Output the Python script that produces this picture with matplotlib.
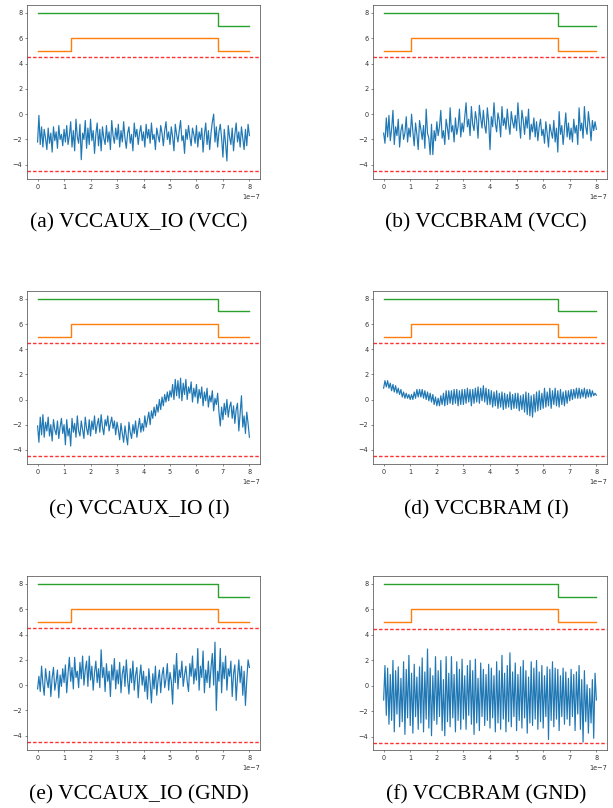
import numpy as np
import matplotlib
matplotlib.use("Agg")
import matplotlib.pyplot as plt

# captions of the six panels
captions = [
    "(a) VCCAUX_IO (VCC)", "(b) VCCBRAM (VCC)",
    "(c) VCCAUX_IO (I)", "(d) VCCBRAM (I)",
    "(e) VCCAUX_IO (GND)", "(f) VCCBRAM (GND)",
]

# step signals (x in units of 1e-7 s)
edges_io = [0, 1.28, 6.8, 8]
edges_bram = [0, 1.02, 6.57, 8]
orange_vals = [5, 6, 5]
green_vals = [8, 8, 7]
limit_hi = 4.5
limit_lo = -4.5

# sampled traces, one sample every 0.05e-7 s
trace_a = [
    -2.2, -0.1, -2.4, -1.0, -2.6, -1.2, -1.9, -2.8, -1.1, -2.3, -1.5, -3.0, -1.0, -2.1, -1.4, -2.7, -0.9, -2.0, -1.6, -2.5,
    -1.2, -2.2, -0.9, -2.4, -1.7, -0.6, -2.6, -1.3, -2.9, -0.4, -1.8, -2.3, -0.8, -3.6, -1.5, -2.0, -0.5, -2.7, -1.1, -2.4,
    -0.4, -2.1, -1.3, -3.1, -1.6, -0.7, -2.5, -1.2, -2.9, -1.0, -1.9, -2.4, -0.9, -2.2, -1.4, -2.8, -0.5, -1.7, -2.3, -1.1,
    -2.0, -0.8, -2.6, -1.3, -2.2, -0.6, -1.9, -2.7, -1.5, -1.0, -2.3, -1.6, -2.9, -0.7, -1.8, -1.2, -2.4, -1.5, -0.9, -2.1,
    -1.4, -2.6, -0.8, -1.9, -1.2, -2.3, -0.7, -2.0, -1.6, -2.8, -1.1, -1.7, -2.2, -0.9, -1.5, -2.5, -1.3, -0.6, -2.0, -1.4,
    -2.4, -1.0, -1.8, -2.9, -0.8, -1.6, -2.2, -1.3, -0.5, -2.1, -1.7, -3.1, -1.2, -2.0, -0.9, -1.8, -2.5, -1.1, -1.6, -2.3,
    -0.9, -2.6, -1.4, -2.0, -1.1, -3.0, -1.6, -0.7, -2.4, -1.3, -2.8, -1.5, -0.6, 0.0, -2.2, -1.0, -2.6, -1.4, -0.8, -1.9,
    -3.4, -1.2, -2.3, -3.7, -0.9, -1.8, -2.4, -1.1, -2.9, -1.6, -0.7, -2.2, -1.4, -2.6, -1.0, -1.9, -2.8, -1.2, -2.5, -0.8,
    -1.7,
]
trace_b = [
    -1.5, -2.3, -0.3, -1.8, -0.1, -2.1, -1.2, 0.3, -2.4, -1.0, -1.7, -0.4, -2.6, -1.3, -0.8, -2.0, -1.5, -0.2, -2.2, -1.1,
    -1.8, 0.0, -1.4, -2.5, -0.7, -1.6, -2.8, -0.5, -1.2, -2.0, -0.9, -2.7, 0.4, -1.5, -1.9, -3.2, -0.8, -3.2, -1.3, -2.1,
    -0.6, -1.7, -1.0, 0.3, -1.9, -1.3, -2.4, -0.4, -1.1, -2.0, 0.5, -1.4, -0.9, -2.2, -0.3, -1.6, -1.0, 0.4, -1.8, -0.7,
    -1.4, -0.2, 0.9, -1.0, -0.4, -1.7, 0.6, -0.8, -1.3, 0.2, -0.5, -1.9, 0.7, -0.3, -1.1, 0.3, -0.9, -1.5, 0.5, -0.6,
    -2.8, -0.2, -1.0, 0.9, -0.7, -1.4, 0.1, -0.5, -1.8, 0.6, -0.9, -0.3, -1.2, 0.4, -0.8, -1.6, 0.2, -0.6, -1.1, -0.1,
    -1.3, 0.9, -0.7, -1.9, 0.3, -0.5, -1.6, -0.2, -1.1, 0.4, -2.0, -0.8, -1.4, -0.3, -1.8, -0.6, -2.1, -1.0, -0.4, -1.7,
    -1.2, -2.3, -0.6, -1.5, -2.6, -0.8, -1.4, -1.9, -0.5, -2.2, -1.1, -3.0, 0.2, -1.6, -0.9, -2.4, -1.2, 0.1, -1.8, -0.7,
    -2.0, -1.1, -2.2, -0.4, -1.5, -0.9, -2.4, 0.5, -1.3, -0.7, -1.9, 0.6, -1.0, -1.6, 0.2, -0.8, -2.1, -0.5, -1.3, -0.6,
    -1.2,
]
trace_c = [
    -2.1, -3.4, -1.4, -2.8, -1.2, -3.0, -1.8, -2.5, -1.4, -2.9, -2.0, -3.3, -1.6, -2.4, -2.8, -1.7, -3.1, -2.2, -1.5, -2.7,
    -2.0, -3.6, -1.6, -2.9, -2.3, -3.7, -1.5, -2.6, -1.9, -3.0, -1.3, -2.5, -2.9, -1.7, -2.4, -3.1, -1.4, -2.3, -2.8, -1.6,
    -2.9, -1.7, -2.4, -1.3, -2.7, -2.0, -1.5, -2.6, -1.2, -2.2, -2.8, -1.6, -2.1, -1.3, -2.5, -1.9, -1.4, -2.3, -1.7, -2.8,
    -1.8, -2.4, -3.2, -1.9, -2.7, -3.4, -2.1, -2.9, -3.6, -1.8, -2.6, -3.1, -2.0, -2.7, -1.7, -3.0, -2.2, -1.5, -2.6, -1.9,
    -2.5, -1.3, -2.2, -1.6, -1.0, -2.0, -0.9, -1.5, -0.6, -1.3, -0.4, -1.0, 0.0, -0.8, 0.2, -0.5, 0.4, -0.2, 0.6, -0.1,
    0.7, 0.2, 1.2, 0.0, 1.6, 0.3, 1.5, 0.1, 1.7, -0.1, 1.3, 0.4, 1.6, 0.0, 1.0, 0.5, 1.4, -0.2, 0.9, 0.2,
    1.2, -0.3, 0.8, 0.1, 1.0, -0.5, 0.6, -0.1, 0.9, -0.6, 0.3, -0.2, 0.7, -0.9, 0.1, -0.4, 0.5, -1.0, -2.1, -0.6,
    -1.6, -0.3, -1.2, 0.0, -1.4, -0.6, -0.2, -1.5, -0.5, -1.9, -0.8, -0.3, -2.5, -1.1, 0.3, -2.2, -1.3, -2.7, -1.0, -1.9,
    -3.0,
]
trace_d = [
    0.9, 1.5, 1.0, 1.5, 0.9, 1.3, 0.7, 1.2, 0.6, 1.1, 0.5, 0.9, 0.4, 0.8, 0.2, 0.6, 0.1, 0.5, 0.1, 0.4,
    0.0, 0.4, 0.0, 0.6, 0.1, 0.8, 0.2, 0.8, 0.2, 0.8, 0.1, 0.7, 0.0, 0.6, -0.1, 0.5, -0.2, 0.4, -0.4, 0.2,
    -0.5, 0.1, -0.5, 0.3, -0.4, 0.5, -0.5, 0.7, -0.4, 0.7, -0.3, 0.7, -0.4, 0.8, -0.3, 0.8, -0.5, 0.7, -0.4, 0.8,
    -0.4, 0.8, -0.3, 0.9, -0.2, 0.8, -0.5, 0.8, -0.3, 0.9, -0.2, 1.0, -0.3, 0.9, -0.1, 1.1, -0.2, 0.9, -0.4, 0.8,
    -0.4, 0.7, -0.6, 0.6, -0.5, 0.7, -0.7, 0.5, -0.6, 0.6, -0.8, 0.5, -0.7, 0.4, -0.6, 0.6, -0.8, 0.4, -0.7, 0.5,
    -0.7, 0.5, -0.9, 0.3, -0.8, 0.4, -1.0, 0.6, -1.2, 0.5, -1.3, 0.3, -1.4, 0.4, -1.0, 0.6, -0.9, 0.7, -0.8, 0.5,
    -0.7, 0.9, -0.6, 0.6, -0.5, 0.9, -0.7, 0.7, -0.4, 0.9, -0.5, 0.7, -0.6, 0.8, -0.4, 0.6, -0.5, 0.7, -0.3, 0.7,
    -0.1, 0.8, 0.0, 0.8, 0.1, 0.9, 0.1, 0.9, 0.1, 0.8, 0.2, 0.9, 0.1, 0.8, 0.2, 0.8, 0.2, 0.7, 0.3, 0.5,
    0.35,
]
trace_e = [
    -0.3, 0.7, -0.5, 1.5, 0.1, -0.8, 1.3, 0.4, -0.2, 1.1, -0.9, 0.6, 1.4, -0.4, 0.3, 1.2, -1.0, 0.8, -0.1, 1.3,
    0.2, 1.6, -0.6, 0.9, 2.2, 0.3, 1.4, -0.3, 2.2, 0.6, 1.1, -0.2, 1.8, 0.5, 2.3, 0.0, 1.2, 1.9, -0.1, 2.3,
    0.4, 1.5, -0.4, 1.0, 1.9, 0.2, 1.3, -0.2, 2.8, 0.6, 1.4, -0.5, 1.7, 0.3, 1.1, -0.9, 1.6, 0.4, 2.1, -0.3,
    1.2, 0.1, 1.8, -0.6, 0.9, 1.5, -0.1, 2.0, 0.4, -0.7, 1.3, 0.2, 1.9, -0.4, 0.8, 1.4, -1.0, 0.6, 1.6, 0.0,
    1.1, -0.5, 0.7, -1.1, 1.3, 0.2, -1.4, 0.9, -0.3, 1.5, -0.8, 0.4, 1.2, -0.6, 0.8, 1.4, -0.2, 0.5, 1.7, -0.4,
    1.0, 0.3, -1.5, 1.6, 0.2, 2.5, -0.3, 1.2, 0.6, 1.9, -0.1, 0.8, 1.5, 0.3, -0.5, 1.7, 0.7, 2.3, 0.1, 1.3,
    0.4, 2.9, -0.4, 1.5, 0.6, 2.7, -0.6, 1.2, 0.2, 1.9, -0.2, 1.4, 2.5, 0.0, 3.4, -2.0, 1.1, 0.3, 2.9, -0.6,
    1.8, 0.5, 2.3, -0.4, 1.3, 0.7, 1.9, -0.9, 0.9, 1.6, -1.2, 0.6, 2.0, 0.2, 1.5, -0.8, 1.1, -1.6, 0.4, 2.0,
    1.4,
]
trace_f = [
    -1.1, 1.6, -2.3, 1.4, -3.0, 0.9, -2.7, 2.0, -3.6, 1.2, -2.2, 1.5, -3.2, 0.6, -2.8, 1.9, -3.8, 1.3, -2.5, 2.4,
    -3.1, 1.0, -3.7, 1.7, -2.4, 0.7, -3.4, 1.5, -2.9, 2.2, -3.6, 1.1, -2.6, 2.9, -3.3, 1.4, -3.9, 0.8, -2.7, 2.3,
    -3.0, 1.2, -2.4, 2.0, -3.5, 0.5, -3.9, 2.3, -2.8, 1.0, -3.2, 2.3, -2.5, 0.9, -3.6, 1.9, -2.7, 1.3, -3.4, 2.1,
    -2.6, 0.8, -3.4, 1.6, -2.3, 2.0, -3.0, 1.2, -3.8, 2.1, -2.9, 0.6, -3.5, 1.8, -2.4, 1.3, -3.1, 0.9, -2.7, 1.7,
    -3.3, 1.4, -2.5, 0.8, -3.6, 1.9, -2.9, 1.2, -3.4, 2.4, -2.6, 1.0, -3.6, 1.6, -2.8, 2.6, -3.2, 1.1, -2.4, 1.8,
    -3.5, 0.9, -2.7, 1.5, -3.3, 2.0, -2.5, 1.2, -3.7, 0.7, -2.9, 1.9, -3.1, 1.4, -2.6, 2.0, -3.4, 1.1, -2.8, 1.6,
    -3.3, 0.8, -2.4, 1.5, -4.2, 1.3, -2.7, 1.9, -3.2, 1.4, -2.6, 1.3, -3.5, 0.8, -2.4, 1.4, -3.0, 1.1, -2.6, 0.6,
    -3.1, 1.3, -2.4, 0.9, -3.5, 1.1, -2.2, 1.6, -3.4, 0.5, -4.4, 1.2, -2.8, 0.1, -3.7, -0.2, -2.9, 0.5, -4.1, 1.0,
    -1.1,
]
traces = [trace_a, trace_b, trace_c, trace_d, trace_e, trace_f]
sample_step = 0.05e-7

plt.rcParams["font.size"] = 4.7
plt.rcParams["axes.linewidth"] = 0.5
plt.rcParams["axes.edgecolor"] = "#444444"
plt.rcParams["xtick.major.size"] = 1.7
plt.rcParams["ytick.major.size"] = 1.7
plt.rcParams["xtick.major.width"] = 0.4
plt.rcParams["ytick.major.width"] = 0.4
plt.rcParams["xtick.major.pad"] = 1.7
plt.rcParams["ytick.major.pad"] = 1.7
plt.rcParams["xtick.color"] = "#333333"
plt.rcParams["ytick.color"] = "#333333"

fig = plt.figure(figsize=(6.13, 8.08), dpi=100)
W, H = 613.0, 808.0

# axes boxes in pixels: (left, top, right, bottom)
col_x = [(27, 260), (373, 607)]
row_y = [(5, 179), (291, 464), (576, 750)]
caption_y = [223, 510, 795]
caption_x = [139, 486]

for i, trace in enumerate(traces):
    r, c = divmod(i, 2)
    x0, x1 = col_x[c]
    y0, y1 = row_y[r]
    ax = fig.add_axes([x0 / W, 1 - y1 / H, (x1 - x0) / W, (y1 - y0) / H])

    vals = np.array(trace)
    t = np.arange(len(vals)) * sample_step
    edges = np.array(edges_io if c == 0 else edges_bram) * 1e-7

    ax.plot(t, vals, color="C0", lw=0.85)
    ax.plot(edges, orange_vals + orange_vals[-1:], drawstyle="steps-post", color="C1", lw=1.0)
    ax.plot(edges, green_vals + green_vals[-1:], drawstyle="steps-post", color="C2", lw=1.0)
    ax.axhline(limit_hi, color="#ff3030", ls=(0, (2.5, 1.5)), lw=1.0)
    ax.axhline(limit_lo, color="#ff3030", ls=(0, (2.5, 1.5)), lw=1.0)

    ax.set_yticks([-4, -2, 0, 2, 4, 6, 8])
    ax.xaxis.get_offset_text().set_fontsize(4.7)

    fig.text(caption_x[c] / W, 1 - caption_y[r] / H, captions[i],
             ha="center", va="center", family="Liberation Serif", fontsize=15.5)

fig.savefig("out.png", dpi=100)
